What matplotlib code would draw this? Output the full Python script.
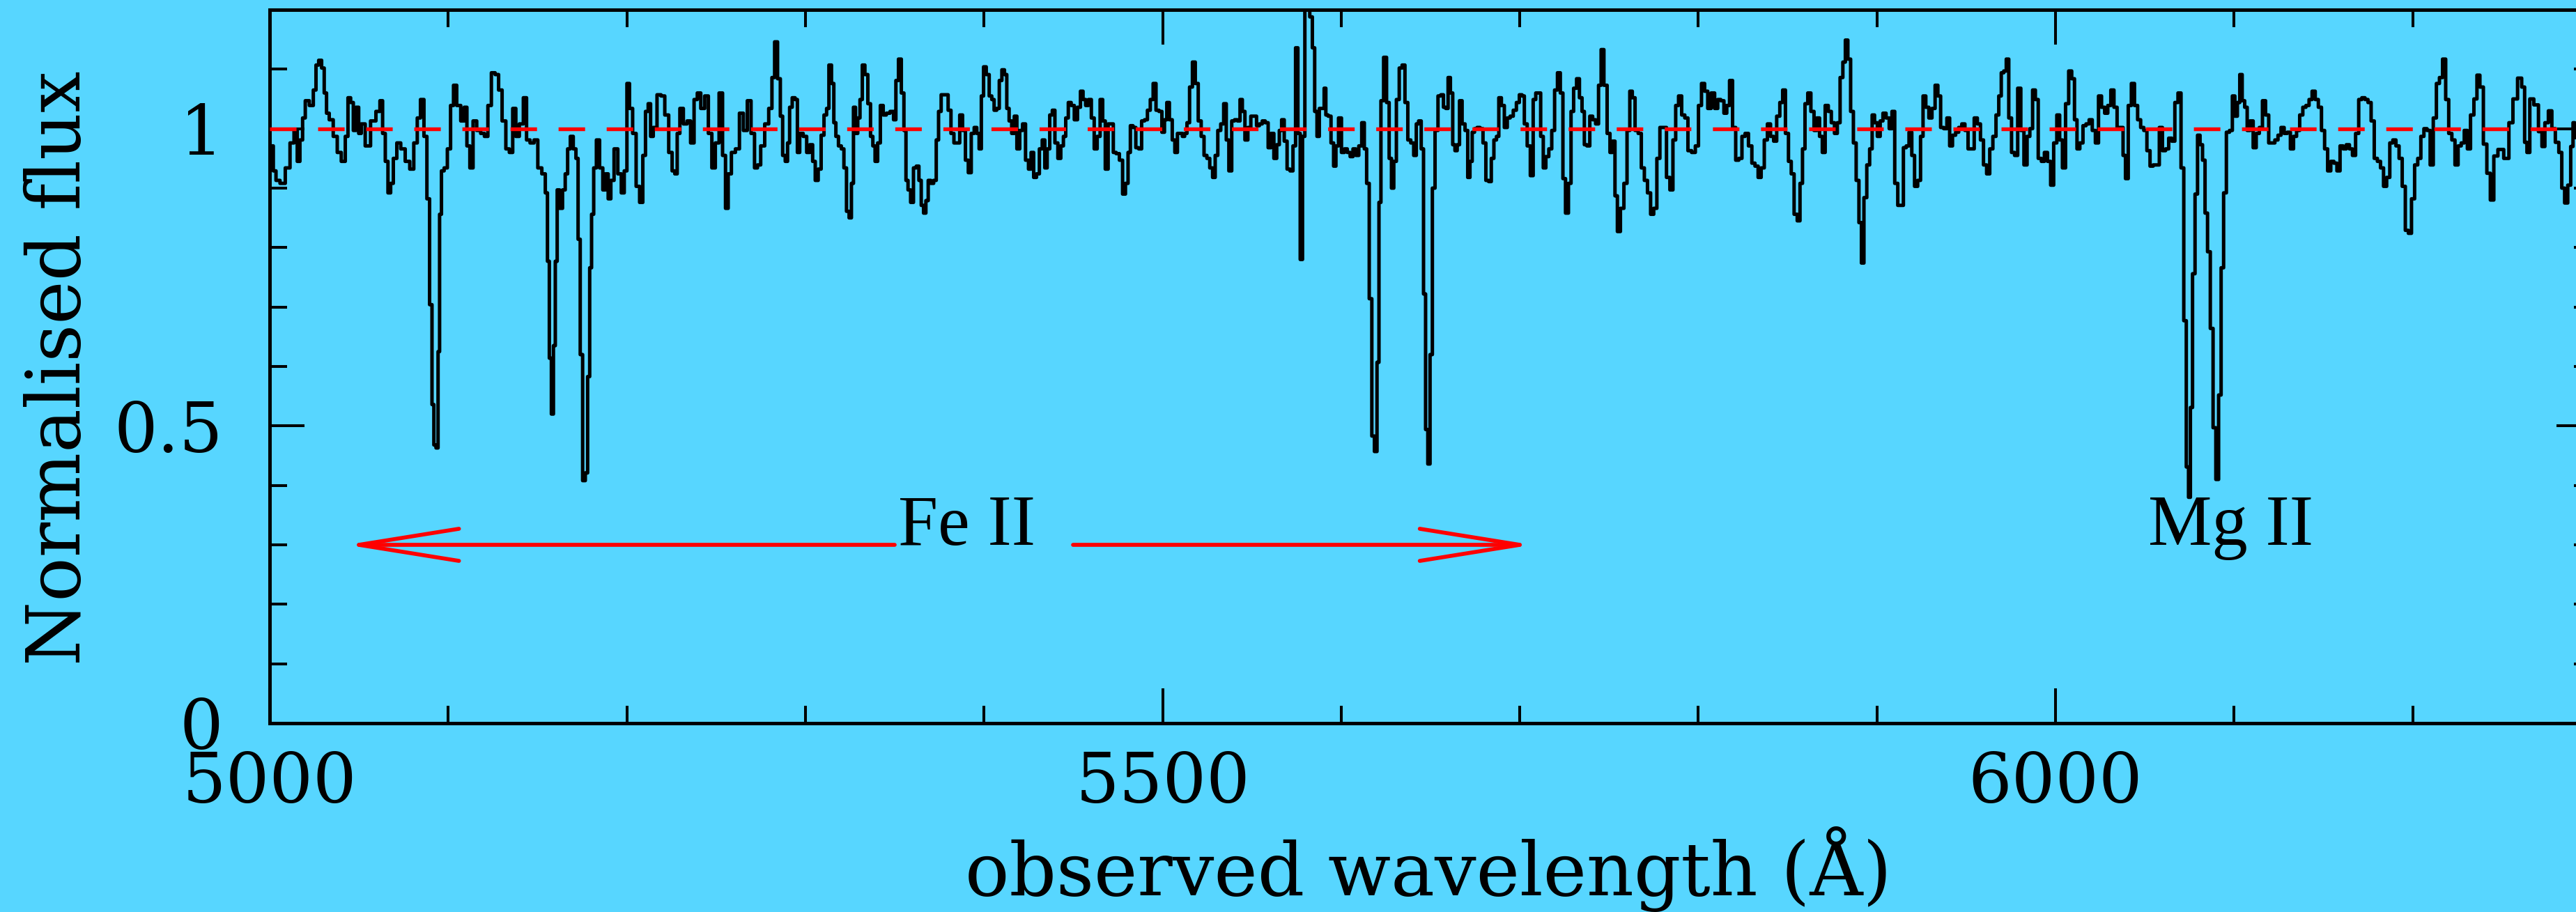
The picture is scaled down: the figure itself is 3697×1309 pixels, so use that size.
import matplotlib
matplotlib.use("Agg")
import matplotlib.pyplot as plt
from matplotlib.ticker import MultipleLocator, FuncFormatter

plt.rcParams['lines.scale_dashes'] = False

# observed spectrum, Angstrom / normalised flux
wave = [
    5000.0, 5001.3, 5002.8, 5004.3, 5007.3, 5010.2, 5012.6, 5014.7, 5016.2, 5017.7,
    5019.2, 5020.7, 5023.7, 5025.2, 5026.7, 5028.2, 5030.0, 5031.1, 5032.6, 5034.1,
    5037.1, 5038.6, 5041.6, 5043.1, 5044.6, 5046.1, 5047.6, 5049.1, 5050.6, 5052.0,
    5055.0, 5058.0, 5061.0, 5062.5, 5064.0, 5065.5, 5067.0, 5068.5, 5070.0, 5072.4,
    5074.4, 5077.4, 5079.5, 5081.9, 5083.4, 5085.5, 5087.3, 5088.8, 5090.3, 5091.5,
    5092.4, 5093.9, 5094.7, 5095.6, 5096.8, 5098.6, 5100.4,
    5102.2, 5103.7, 5105.8, 5108.2, 5109.7, 5111.2, 5113.0, 5114.8, 5117.1, 5119.2,
    5121.3, 5123.1, 5125.2, 5127.3, 5129.1, 5131.2, 5133.3, 5135.1, 5137.1, 5138.6,
    5141.0, 5143.1, 5144.6, 5147.0, 5149.1, 5151.2, 5153.6, 5155.1, 5156.0, 5157.2,
    5158.3, 5159.5, 5160.4, 5161.6, 5163.1, 5164.9, 5166.1, 5167.6, 5169.1, 5170.9,
    5172.1, 5173.3, 5174.5, 5176.0, 5177.5, 5178.6, 5179.8, 5180.7, 5182.2, 5183.7,
    5185.8, 5187.3, 5188.8, 5190.3, 5191.8, 5193.9, 5196.0, 5197.8, 5199.3,
    5200.8, 5202.2, 5204.3, 5206.1, 5208.2, 5209.7, 5211.2, 5212.7, 5213.9, 5215.7,
    5218.1, 5220.2, 5222.3, 5224.6, 5226.1, 5227.6, 5228.8, 5230.6, 5232.7, 5234.8,
    5236.6, 5238.7, 5240.2, 5242.6, 5244.6, 5246.7, 5248.5, 5250.6, 5252.7, 5254.5,
    5256.0, 5257.5, 5259.6, 5262.0, 5264.1, 5266.4, 5268.5, 5270.6, 5272.4, 5273.9,
    5276.0, 5278.4, 5280.5, 5282.0, 5283.5, 5285.3, 5286.6, 5287.9, 5289.5, 5290.5,
    5291.8, 5293.4, 5295.0, 5296.0, 5297.6, 5299.9,
    5301.5, 5303.4, 5304.7, 5306.3, 5308.0, 5309.6, 5311.2, 5312.5, 5313.8, 5315.4,
    5316.4, 5317.7, 5319.3, 5320.9, 5322.2, 5323.8, 5325.1, 5326.4, 5327.4, 5328.7,
    5329.9, 5331.2, 5332.5, 5334.1, 5335.8, 5337.1, 5338.4, 5339.6, 5341.3, 5342.6,
    5344.5, 5346.1, 5348.7, 5350.0, 5351.3, 5352.9, 5354.5, 5355.8, 5356.8, 5358.1,
    5359.7, 5361.3, 5362.9, 5364.2, 5365.5, 5366.8, 5368.1, 5369.4, 5371.0, 5372.6,
    5373.9, 5375.2, 5376.8, 5379.1, 5380.7, 5382.3, 5384.0, 5385.6, 5387.2, 5388.8,
    5390.4, 5392.0, 5393.7, 5395.3, 5396.6, 5397.9, 5399.1,
    5400.4, 5402.1, 5403.7, 5405.0, 5406.3, 5407.9, 5409.2, 5410.8, 5412.1, 5413.4,
    5414.7, 5416.3, 5417.6, 5419.2, 5420.8, 5422.4, 5424.1, 5425.7, 5427.0, 5428.6,
    5430.2, 5431.8, 5433.4, 5434.7, 5436.0, 5437.6, 5438.9, 5440.5, 5442.2, 5443.8,
    5445.1, 5446.4, 5448.0, 5449.6, 5451.5, 5453.2, 5454.8, 5456.1, 5457.7, 5459.3,
    5460.9, 5462.5, 5464.2, 5465.8, 5467.1, 5468.7, 5470.3, 5471.6, 5473.2, 5474.8,
    5476.8, 5478.4, 5480.0, 5481.3, 5482.6, 5484.2, 5485.8, 5487.4, 5489.1, 5490.7,
    5492.3, 5493.9, 5495.5, 5497.1, 5498.8,
    5500.4, 5501.7, 5503.0, 5504.6, 5506.2, 5507.5, 5509.1, 5510.4, 5511.7, 5513.0,
    5514.3, 5515.9, 5517.5, 5519.1, 5520.8, 5522.4, 5524.0, 5525.6, 5527.2, 5528.8,
    5530.1, 5531.7, 5533.4, 5535.0, 5536.3, 5537.9, 5539.5, 5541.1, 5542.7, 5544.0,
    5545.3, 5546.9, 5548.6, 5550.2, 5551.8, 5553.4, 5555.0, 5556.6, 5558.3, 5559.9,
    5561.5, 5563.1, 5564.7, 5566.0, 5567.3, 5568.9, 5570.5, 5572.2, 5573.8, 5575.1,
    5576.4, 5577.7, 5579.0, 5580.3, 5581.6, 5583.2, 5584.5, 5585.8, 5587.1, 5588.4,
    5590.0, 5590.9, 5591.9, 5593.5, 5595.1, 5596.4, 5597.7, 5599.3,
    5601.0, 5602.6, 5604.2, 5605.8, 5607.4, 5609.0, 5610.7, 5612.3, 5613.6, 5614.9,
    5616.5, 5617.8, 5619.4, 5620.7, 5621.6, 5622.9, 5624.6, 5626.2, 5627.5, 5628.8,
    5630.1, 5631.7, 5633.3, 5634.9, 5636.5, 5638.1, 5639.8, 5641.4, 5642.7, 5644.0,
    5645.6, 5646.6, 5647.9, 5649.1, 5650.4, 5651.7, 5653.4, 5655.0, 5656.6, 5657.9,
    5659.2, 5660.5, 5661.8, 5663.1, 5664.3, 5665.6, 5666.9, 5668.5, 5670.2, 5671.5,
    5672.7, 5674.0, 5675.3, 5676.9, 5678.6, 5680.2, 5681.8, 5683.4, 5684.7, 5686.3,
    5687.6, 5688.9, 5690.5, 5692.2, 5693.8, 5695.4, 5697.3, 5698.9,
    5700.6, 5701.9, 5703.2, 5705.1, 5706.7, 5708.3, 5709.6, 5710.9, 5712.5, 5713.8,
    5715.4, 5717.1, 5718.7, 5720.3, 5721.9, 5723.5, 5724.8, 5726.4, 5728.1, 5729.3,
    5731.0, 5732.6, 5734.2, 5735.5, 5736.8, 5738.4, 5740.0, 5741.6, 5743.3, 5744.9,
    5746.2, 5748.0, 5749.8, 5751.2, 5752.6, 5754.0, 5755.3, 5757.4, 5759.2, 5760.9,
    5762.3, 5763.7, 5765.4, 5767.2, 5768.9, 5770.6, 5772.4, 5774.1, 5775.9, 5777.6,
    5779.3, 5781.1, 5783.2, 5784.9, 5786.6, 5788.0, 5789.8, 5791.5, 5793.3, 5795.0,
    5797.4, 5799.2,
    5800.9, 5802.6, 5804.4, 5806.1, 5808.2, 5810.0, 5811.7, 5813.4, 5815.2, 5816.6,
    5818.3, 5820.0, 5821.8, 5823.5, 5825.3, 5827.0, 5829.1, 5830.8, 5832.6, 5834.3,
    5836.0, 5837.8, 5839.5, 5841.3, 5843.0, 5844.7, 5846.5, 5847.9, 5849.6, 5851.3,
    5852.7, 5854.5, 5856.2, 5857.6, 5859.0, 5860.4, 5862.1, 5863.9, 5865.6, 5867.0,
    5868.7, 5870.1, 5871.9, 5873.6, 5875.3, 5877.1, 5878.5, 5880.2, 5881.6, 5883.0,
    5884.4, 5886.1, 5887.5, 5889.2, 5890.6, 5892.0, 5893.4, 5895.2, 5896.6, 5898.0,
    5899.3,
    5901.1, 5902.5, 5904.2, 5906.0, 5907.7, 5909.1, 5910.8, 5912.5, 5913.9, 5915.7,
    5917.1, 5918.8, 5920.2, 5921.9, 5923.7, 5925.1, 5926.5, 5928.2, 5929.9, 5931.7,
    5933.4, 5934.8, 5936.5, 5938.3, 5940.0, 5941.4, 5943.2, 5944.9, 5946.6, 5948.4,
    5950.1, 5951.9, 5953.6, 5955.3, 5957.1, 5958.8, 5960.5, 5962.3, 5964.0, 5965.8,
    5967.5, 5968.9, 5970.3, 5971.7, 5973.1, 5974.5, 5976.2, 5977.9, 5979.7, 5981.4,
    5983.2, 5984.9, 5986.3, 5988.0, 5989.4, 5991.2, 5992.9, 5994.6, 5996.4, 5998.1,
    5999.8,
    6001.6, 6003.0, 6004.7, 6006.5, 6008.2, 6009.9, 6011.3, 6012.7, 6014.5, 6016.2,
    6017.9, 6019.7, 6021.4, 6023.2, 6024.9, 6026.6, 6028.4, 6030.1, 6031.8, 6033.6,
    6035.3, 6037.1, 6038.5, 6039.8, 6041.6, 6043.3, 6045.1, 6046.8, 6048.5, 6050.3,
    6052.0, 6053.8, 6055.5, 6057.2, 6059.0, 6060.7, 6062.5, 6064.2, 6065.9, 6067.7,
    6069.4, 6071.1, 6072.5, 6073.9, 6075.0, 6076.0, 6077.4, 6078.8, 6080.2, 6081.6,
    6083.0, 6084.4, 6085.8, 6087.5, 6088.9, 6090.6, 6092.0, 6093.4, 6094.8, 6096.5,
    6098.3, 6099.7,
    6101.1, 6102.5, 6103.8, 6105.2, 6106.6, 6108.0, 6109.8, 6111.5, 6113.2, 6115.0,
    6116.7, 6118.5, 6120.2, 6121.9, 6123.7, 6125.4, 6127.1, 6128.9, 6130.6, 6132.4,
    6134.1, 6135.8, 6137.6, 6139.3, 6141.1, 6142.8, 6144.5, 6146.3, 6148.0, 6149.8,
    6151.5, 6153.2, 6155.0, 6156.7, 6158.4, 6160.2, 6161.9, 6163.7, 6165.4, 6167.1,
    6168.9, 6170.6, 6172.4, 6174.1, 6175.8, 6177.6, 6179.3, 6181.1, 6182.8, 6184.5,
    6186.3, 6188.0, 6189.7, 6191.5, 6193.2, 6195.0, 6196.7, 6198.4,
    6200.2, 6201.9, 6203.7, 6205.4, 6207.1, 6208.9, 6210.6, 6212.4, 6214.1, 6215.8,
    6217.6, 6219.3, 6221.0, 6222.8, 6224.5, 6226.3, 6228.0, 6229.7, 6231.5, 6233.2,
    6235.3, 6236.6, 6238.6, 6240.5, 6242.5, 6244.4, 6246.4, 6249.0, 6252.9, 6254.8,
    6257.4, 6260.0, 6262.0, 6263.3, 6264.6, 6266.5, 6269.1, 6271.7, 6273.0, 6275.0,
    6276.9, 6278.9, 6280.8, 6282.8, 6284.1, 6286.0, 6287.6, 6289.3, 6290.2, 6291.2,
    6295.0, 6300.0,
]

flux = [
    0.970, 0.971, 0.929, 0.913, 0.908, 0.934, 0.976, 0.997, 0.945, 0.981,
    1.018, 1.047, 1.039, 1.065, 1.107, 1.115, 1.102, 1.060, 1.026, 1.015,
    0.987, 0.960, 0.945, 0.987, 1.052, 1.044, 0.997, 1.036, 0.992, 1.008,
    0.971, 1.013, 1.029, 1.047, 0.992, 0.945, 0.892, 0.908, 0.950, 0.976,
    0.966, 0.945, 0.932, 0.976, 1.018, 1.049, 0.987, 0.882, 0.704, 0.536,
    0.468, 0.463, 0.625, 0.856, 0.929, 0.934, 0.966,
    1.039, 1.073, 1.039, 1.013, 1.036, 0.971, 0.934, 1.013, 0.997, 0.992,
    0.987, 1.039, 1.094, 1.091, 1.065, 1.013, 0.966, 0.960, 1.034, 0.987,
    1.008, 1.052, 0.981, 0.976, 0.981, 0.934, 0.924, 0.892, 0.777, 0.614,
    0.520, 0.635, 0.777, 0.897, 0.866, 0.897, 0.924, 0.966, 0.987, 0.966,
    0.950, 0.814, 0.620, 0.408, 0.421, 0.583, 0.766, 0.856, 0.934, 0.981,
    0.934, 0.897, 0.924, 0.882, 0.913, 0.966, 0.924, 0.892, 0.929,
    1.076, 1.034, 0.992, 0.903, 0.876, 0.955, 1.029, 1.042, 0.987, 1.002,
    1.057, 1.055, 1.023, 0.960, 0.929, 0.924, 0.992, 1.034, 1.008, 1.013,
    0.976, 1.049, 1.060, 1.034, 1.055, 0.992, 0.934, 0.976, 1.060, 0.955,
    0.866, 0.924, 0.960, 0.966, 1.026, 0.997, 1.047, 0.992, 0.934, 0.939,
    0.971, 1.008, 1.034, 1.086, 1.146, 1.084, 1.021, 0.955, 0.945, 0.976,
    1.036, 1.052, 1.049, 0.960, 0.992, 0.987,
    0.960, 0.973, 0.945, 0.913, 0.932, 0.989, 1.023, 1.034, 1.107, 1.076,
    1.010, 0.987, 0.971, 0.966, 0.934, 0.861, 0.850, 0.908, 1.036, 0.992,
    1.018, 1.049, 1.107, 1.091, 1.042, 0.987, 0.971, 0.945, 0.976, 1.039,
    1.023, 1.026, 1.029, 1.015, 1.081, 1.117, 1.060, 0.997, 0.913, 0.897,
    0.876, 0.934, 0.937, 0.913, 0.871, 0.858, 0.879, 0.913, 0.908, 0.913,
    0.981, 1.029, 1.057, 1.057, 1.031, 0.992, 0.976, 0.976, 1.023, 0.997,
    0.947, 0.926, 0.992, 1.002, 0.992, 0.966, 1.055,
    1.104, 1.091, 1.055, 1.049, 1.031, 1.034, 1.081, 1.099, 1.091, 1.034,
    1.013, 0.992, 1.021, 0.966, 0.997, 1.008, 0.947, 0.932, 0.960, 0.918,
    0.924, 0.966, 0.981, 0.934, 0.966, 1.023, 1.031, 0.976, 0.950, 0.971,
    0.987, 1.018, 1.044, 1.039, 1.015, 1.036, 1.063, 1.049, 1.039, 1.049,
    1.018, 0.966, 0.987, 1.049, 1.013, 0.932, 1.008, 1.008, 0.960, 0.958,
    0.947, 0.890, 0.908, 0.960, 1.005, 1.002, 0.968, 0.966, 1.013, 1.015,
    1.031, 1.049, 1.076, 1.031, 1.029,
    0.994, 1.015, 1.044, 1.015, 0.981, 0.960, 0.992, 0.992, 0.987, 0.992,
    1.010, 1.070, 1.112, 1.076, 1.013, 0.987, 0.955, 0.950, 0.934, 0.918,
    0.955, 0.997, 1.008, 1.042, 0.981, 0.929, 1.013, 1.015, 1.013, 1.049,
    1.029, 0.981, 1.002, 1.021, 1.021, 1.005, 1.008, 1.013, 1.010, 0.968,
    0.992, 0.950, 0.973, 0.997, 1.015, 0.979, 0.932, 0.929, 0.971, 1.136,
    0.992, 0.780, 0.987, 1.250, 1.250, 1.188, 1.136, 1.029, 0.987, 1.034,
    1.034, 1.068, 1.023, 1.021, 0.976, 0.937, 0.971, 1.018,
    0.960, 0.966, 0.960, 0.953, 0.966, 0.955, 0.971, 1.010, 0.966, 0.908,
    0.714, 0.483, 0.457, 0.607, 0.876, 1.047, 1.120, 1.044, 0.950, 0.900,
    0.945, 1.049, 1.102, 1.107, 1.044, 0.981, 0.976, 0.955, 1.008, 1.013,
    0.966, 0.722, 0.494, 0.436, 0.620, 0.900, 0.997, 1.055, 1.057, 1.036,
    1.034, 1.086, 1.060, 0.973, 0.963, 0.973, 1.047, 1.008, 0.997, 0.918,
    0.945, 0.994, 1.000, 1.002, 1.000, 0.976, 0.913, 0.911, 0.950, 0.981,
    0.987, 1.052, 1.039, 1.002, 1.018, 1.021, 1.031, 1.044,
    1.057, 1.055, 1.008, 0.971, 0.921, 1.049, 1.060, 1.060, 0.987, 0.934,
    0.953, 0.966, 0.997, 1.065, 1.094, 1.060, 0.916, 0.858, 0.908, 1.029,
    1.068, 1.084, 1.052, 1.029, 0.973, 0.971, 1.021, 1.015, 1.008, 1.073,
    1.133, 1.073, 0.992, 0.960, 0.979, 0.887, 0.827, 0.866, 0.908, 0.997,
    1.063, 1.052, 0.997, 0.992, 0.934, 0.913, 0.892, 0.856, 0.866, 0.950,
    1.002, 1.002, 0.918, 0.897, 0.981, 1.039, 1.055, 1.023, 1.018, 0.963,
    0.960, 0.971,
    1.039, 1.076, 1.063, 1.034, 1.060, 1.034, 1.049, 1.047, 1.026, 1.039,
    1.081, 1.002, 0.947, 0.950, 0.987, 0.992, 0.971, 0.942, 0.937, 0.918,
    0.934, 0.981, 1.008, 0.987, 0.979, 1.021, 1.044, 1.065, 0.992, 0.945,
    0.924, 0.856, 0.845, 0.908, 0.966, 1.042, 1.060, 1.029, 0.997, 1.018,
    0.987, 0.960, 1.039, 1.029, 1.010, 0.992, 1.010, 1.086, 1.112, 1.149,
    1.117, 1.029, 0.976, 0.913, 0.842, 0.774, 0.884, 0.939, 0.966, 1.023,
    1.010,
    0.987, 1.013, 1.026, 1.018, 1.000, 1.029, 0.908, 0.871, 0.871, 0.968,
    0.971, 0.994, 0.955, 0.903, 0.913, 0.987, 1.055, 1.036, 1.018, 1.034,
    1.073, 1.055, 1.002, 1.000, 1.018, 0.971, 0.989, 0.994, 1.002, 1.008,
    0.997, 0.966, 0.966, 1.018, 1.008, 0.981, 0.939, 0.924, 0.966, 0.987,
    1.023, 1.055, 1.094, 1.097, 1.117, 1.018, 0.960, 0.955, 1.068, 0.997,
    0.939, 0.987, 1.000, 1.065, 1.049, 0.950, 0.945, 0.960, 0.945, 0.905,
    0.976,
    1.023, 0.981, 0.934, 1.042, 1.097, 1.084, 1.015, 0.966, 0.976, 1.005,
    1.008, 1.015, 0.997, 0.976, 1.055, 1.036, 1.026, 1.039, 1.065, 1.036,
    1.002, 1.002, 0.955, 0.916, 1.039, 1.076, 1.039, 1.015, 1.002, 0.997,
    0.963, 0.937, 0.939, 0.939, 1.002, 0.963, 0.966, 0.984, 0.979, 1.044,
    1.060, 0.934, 0.677, 0.431, 0.380, 0.531, 0.756, 0.890, 0.989, 0.973,
    0.947, 0.858, 0.793, 0.664, 0.497, 0.410, 0.552, 0.766, 0.892, 0.994,
    0.997, 1.055,
    1.021, 1.044, 1.091, 1.047, 1.036, 0.997, 1.013, 0.968, 0.992, 1.002,
    1.047, 1.023, 0.976, 0.976, 0.981, 0.989, 1.002, 0.992, 0.994, 0.966,
    0.987, 0.997, 1.023, 1.036, 1.039, 1.049, 1.063, 1.049, 1.036, 0.997,
    0.966, 0.929, 0.945, 0.942, 0.929, 0.971, 0.966, 0.973, 0.966, 0.955,
    0.992, 1.049, 1.052, 1.049, 1.044, 1.013, 0.950, 0.945, 0.934, 0.903,
    0.918, 0.976, 0.981, 0.971, 0.950, 0.903, 0.829, 0.824,
    0.882, 0.939, 0.950, 0.987, 1.000, 0.997, 0.939, 1.018, 1.076, 1.086,
    1.117, 1.049, 0.992, 0.981, 0.939, 0.971, 0.976, 0.997, 0.966, 1.023,
    1.050, 1.090, 1.070, 0.974, 0.925, 0.880, 0.954, 0.965, 0.950, 1.010,
    1.050, 1.085, 1.070, 0.977, 0.960, 1.050, 1.040, 0.995, 0.970, 1.010,
    1.030, 1.000, 0.977, 0.960, 0.900, 0.875, 0.905, 0.970, 1.010, 0.985,
    0.990, 1.000,
]

continuum = 1.0

# line identifications: label, left edge of text (Angstrom)
ion_labels = ['Fe II', 'Mg II']
ion_text_x = [5352, 6052]
label_y = 0.3

# Fe II arrows: (start, tip) in Angstrom
fe_arrows = [(5350, 5050), (5450, 5700)]
head_len = 56      # Angstrom
head_half = 0.027  # flux units

bg = '#57d6ff'
serif = 'DejaVu Serif'

fig = plt.figure(figsize=(36.98, 13.09), dpi=100, facecolor=bg)
ax = fig.add_axes([387 / 3698, 271 / 1309, 3332 / 3698, 1024 / 1309])
ax.set_facecolor(bg)

ax.plot(wave, flux, drawstyle='steps-mid', color='black', lw=3.6, zorder=2)
ax.axhline(continuum, color='red', lw=3.9, dashes=(27.4, 22.3), zorder=3)

for start, tip in fe_arrows:
    d = 1 if tip > start else -1
    ax.plot([start, tip], [label_y, label_y], color='red', lw=4.1,
            solid_capstyle='round')
    ax.plot([tip - d * head_len, tip, tip - d * head_len],
            [label_y + head_half, label_y, label_y - head_half],
            color='red', lw=4.1, solid_capstyle='round', solid_joinstyle='round')

for lab, x in zip(ion_labels, ion_text_x):
    ax.text(x, label_y, lab, family='Liberation Serif', fontsize=74,
            ha='left', va='baseline', color='black')

ax.set_xlim(5000, 6300)
ax.set_ylim(0, 1.2)
ax.xaxis.set_major_locator(MultipleLocator(500))
ax.xaxis.set_minor_locator(MultipleLocator(100))
ax.yaxis.set_major_locator(MultipleLocator(0.5))
ax.yaxis.set_minor_locator(MultipleLocator(0.1))
ax.yaxis.set_major_formatter(FuncFormatter(lambda v, p: '%g' % v))

ax.tick_params(which='both', direction='in', top=True, right=True,
               width=2.9, color='black')
ax.tick_params(which='major', length=36)
ax.tick_params(which='minor', length=18)
ax.tick_params(axis='x', pad=28, labelsize=71)
ax.tick_params(axis='y', pad=48, labelsize=71)
for lab in ax.get_xticklabels() + ax.get_yticklabels():
    lab.set_family(serif)
for sp in ax.spines.values():
    sp.set_linewidth(3.6)

fig.text(2050 / 3698, (1309 - 1285) / 1309, 'observed wavelength (Å)',
         ha='center', va='baseline', fontsize=76, family=serif)
fig.text(115 / 3698, (1309 - 528) / 1309, 'Normalised flux', rotation=90,
         rotation_mode='anchor', ha='center', va='baseline',
         fontsize=76, family=serif)

fig.savefig('out.png', dpi=100, facecolor=bg)
